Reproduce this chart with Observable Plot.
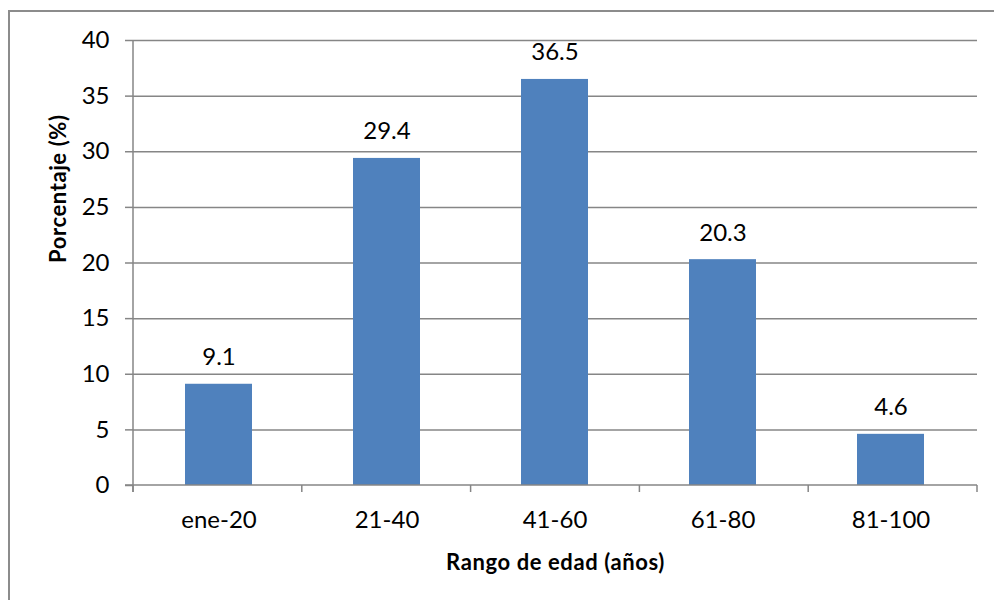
<!DOCTYPE html>
<html>
<head>
<meta charset="utf-8">
<script src="https://cdn.jsdelivr.net/npm/d3@7"></script>
<script src="https://cdn.jsdelivr.net/npm/@observablehq/plot@0.6"></script>
<style>
  html, body { margin: 0; padding: 0; background: #fff; }
  #wrap { position: relative; width: 994px; height: 600px; overflow: hidden; }
  #border { position: absolute; left: 8px; top: 10px; width: 1100px; height: 700px;
            border-left: 2px solid #8c8c8c; border-top: 2px solid #8c8c8c; box-sizing: border-box; }
  #chart { position: absolute; left: 0; top: 0; }
  #chart text.axis-title { letter-spacing: 0.6px; }
</style>
</head>
<body>
<div id="wrap"><div id="border"></div><div id="chart"></div></div>
<script>
// Age ranges and the share of people in each (%)
const categories = ["ene-20", "21-40", "41-60", "61-80", "81-100"];
const percentages = [9.1, 29.4, 36.5, 20.3, 4.6];
const yTicks = [0, 5, 10, 15, 20, 25, 30, 35, 40];
const yTitle = "Porcentaje (%)";
const xTitle = "Rango de edad (años)";

const data = categories.map((rango, i) => ({rango, pct: percentages[i]}));
const gridColor = "#868686";

// Axis lines plus category-boundary ticks along the bottom
function axisLines(index, scales, values, dimensions) {
  const {width, marginLeft, marginRight} = dimensions;
  const g = d3.create("svg:g").attr("stroke", gridColor).attr("stroke-width", 1.5).attr("fill", "none");
  const y0 = scales.y(0);
  const yTop = scales.y(d3.max(yTicks));
  const x0 = marginLeft, x1 = width - marginRight;
  g.append("line").attr("x1", x0).attr("x2", x0).attr("y1", yTop).attr("y2", y0 + 7);
  g.append("line").attr("x1", x0 - 8).attr("x2", x1).attr("y1", y0).attr("y2", y0);
  const step = (x1 - x0) / categories.length;
  d3.range(categories.length + 1).forEach(i => {
    const x = x0 + i * step;
    g.append("line").attr("x1", x).attr("x2", x).attr("y1", y0).attr("y2", y0 + 7);
  });
  return g.node();
}

const chart = Plot.plot({
  width: 994,
  height: 600,
  marginLeft: 133,
  marginRight: 17,
  marginTop: 40,
  marginBottom: 115,
  style: {fontFamily: "Lato, 'Open Sans', sans-serif", fontSize: "24px", color: "#000", background: "transparent"},
  x: {domain: categories, paddingInner: 0.6, paddingOuter: 0.3, label: null},
  y: {domain: [0, 40], ticks: yTicks, label: null},
  marks: [
    Plot.ruleY(yTicks.filter(t => t > 0), {stroke: gridColor, strokeWidth: 1.5}),
    Plot.axisY({ticks: yTicks, tickSize: 8, tickPadding: 16, stroke: gridColor, strokeWidth: 1.5, fill: "#000", fontSize: 24, label: null}),
    Plot.axisX({tickSize: 0, tickPadding: 25, fill: "#000", fontSize: 24, label: null}),
    Plot.barY(data, {x: "rango", y: "pct", fill: "#4F81BD"}),
    axisLines,
    Plot.text(data, {x: "rango", y: "pct", text: d => d.pct.toFixed(1), lineAnchor: "bottom", dy: -19, fontSize: 24, fill: "#000"}),
    Plot.text([yTitle], {frameAnchor: "left", rotate: -90, dx: -75, fontSize: 22, fontWeight: "bold", fill: "#000", className: "axis-title"}),
    Plot.text([xTitle], {frameAnchor: "bottom", lineAnchor: "bottom", dy: 84, fontSize: 22, fontWeight: "bold", fill: "#000", className: "axis-title"})
  ]
});
chart.querySelectorAll("g.axis-title text, text.axis-title").forEach(t => t.classList.add("axis-title"));
document.getElementById("chart").appendChild(chart);
</script>
</body>
</html>
